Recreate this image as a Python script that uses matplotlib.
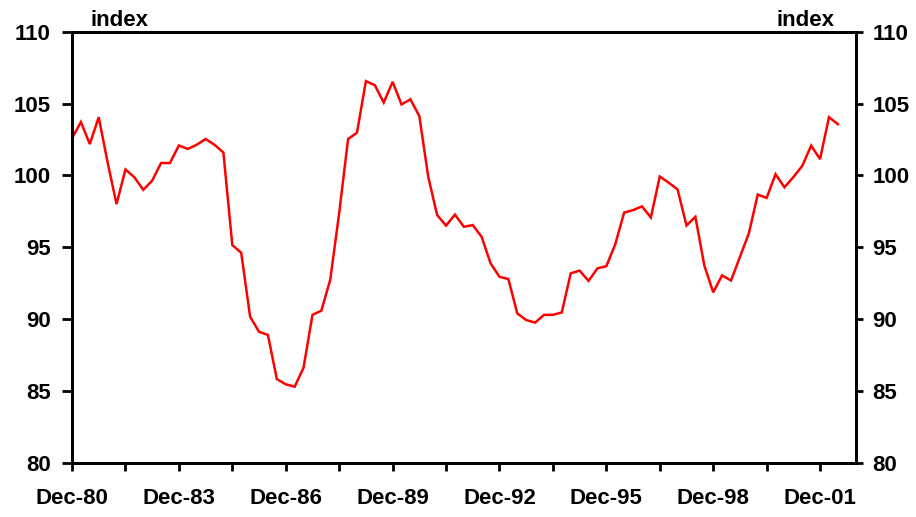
import matplotlib
matplotlib.use("Agg")
import matplotlib.pyplot as plt
from matplotlib.ticker import FixedLocator

plt.rcParams['font.family'] = ['Liberation Sans', 'DejaVu Sans']

# Quarterly index values, Dec-80 .. Jun-02
values = [
    102.58, 103.71, 102.18, 104.05, 100.90, 98.00, 100.41, 99.87, 98.99, 99.63,
    100.86, 100.86, 102.08, 101.84, 102.13, 102.53, 102.13, 101.59, 95.15, 94.61,
    90.16, 89.11, 88.89, 85.82, 85.46, 85.29, 86.61, 90.29, 90.58, 92.74,
    97.37, 102.53, 102.97, 106.56, 106.28, 105.07, 106.51, 104.94, 105.29, 104.13,
    99.90, 97.24, 96.50, 97.27, 96.42, 96.54, 95.72, 93.88, 92.94, 92.78,
    90.39, 89.93, 89.75, 90.29, 90.29, 90.46, 93.18, 93.37, 92.65, 93.53,
    93.68, 95.20, 97.41, 97.58, 97.84, 97.07, 99.92, 99.49, 99.02, 96.51,
    97.11, 93.73, 91.86, 93.04, 92.68, 94.32, 95.96, 98.66, 98.43, 100.08,
    99.17, 99.88, 100.66, 102.07, 101.13, 104.05, 103.56,
]
tick_labels = ["Dec-80", "Dec-83", "Dec-86", "Dec-89", "Dec-92", "Dec-95", "Dec-98", "Dec-01"]
y_ticks = [80, 85, 90, 95, 100, 105, 110]

x = list(range(len(values)))

fig = plt.figure(figsize=(9.16, 5.17), dpi=100)
ax = fig.add_axes([72/916, 1 - 462.7/517, (855.7 - 72)/916, (462.7 - 31.7)/517])
ax2 = ax.twinx()

ax.plot(x, values, color='#ff0000', lw=1.8, solid_joinstyle='miter')

ax.set_xlim(0, 88)
for a in (ax, ax2):
    a.set_ylim(80, 110)
    a.set_yticks(y_ticks)

ax.xaxis.set_major_locator(FixedLocator([12 * i for i in range(len(tick_labels))]))
ax.set_xticklabels(tick_labels)
ax.xaxis.set_minor_locator(FixedLocator([6 + 12 * i for i in range(len(tick_labels))]))

for a in (ax, ax2):
    for s in a.spines.values():
        s.set_linewidth(2)
        s.set_color('black')

ax.tick_params(axis='x', which='both', direction='out', length=6, width=2, pad=12,
               labelsize=16)
ax.tick_params(axis='y', direction='out', length=7.2, width=2, pad=8, labelsize=16)
ax2.tick_params(axis='y', direction='out', length=5, width=2, pad=7, labelsize=16)
for lab in ax.get_xticklabels() + ax.get_yticklabels() + ax2.get_yticklabels():
    lab.set_fontweight('bold')

fig.text(90/916, 1 - 26/517, "index", ha='left', va='baseline', fontsize=16, fontweight='bold')
fig.text(835/916, 1 - 26/517, "index", ha='right', va='baseline', fontsize=16, fontweight='bold')

fig.savefig("out.png", dpi=100)
